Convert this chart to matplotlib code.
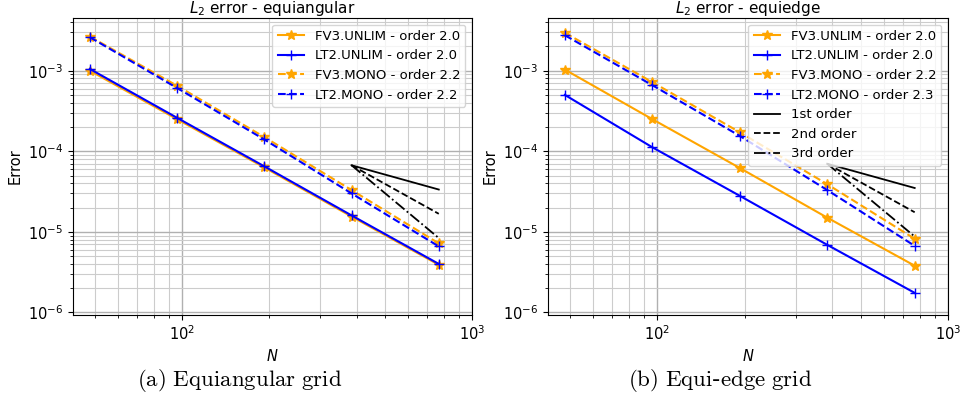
import matplotlib
matplotlib.use("Agg")
import matplotlib.pyplot as plt
import numpy as np

plt.rcParams['mathtext.fontset'] = 'dejavusans'

N = [48, 96, 192, 384, 768]

# equiangular
ea_fv3_unlim = [1.0e-3, 2.5e-4, 6.3e-5, 1.55e-5, 3.9e-6]
ea_lt2_unlim = [1.05e-3, 2.6e-4, 6.5e-5, 1.6e-5, 4.0e-6]
ea_fv3_mono = [2.65e-3, 6.5e-4, 1.5e-4, 3.3e-5, 7.2e-6]
ea_lt2_mono = [2.6e-3, 6.1e-4, 1.4e-4, 3.0e-5, 6.6e-6]
ea_orders = ["2.0", "2.0", "2.2", "2.2"]
ea_ref = 6.7e-5

# equiedge
ee_fv3_unlim = [1.03e-3, 2.5e-4, 6.2e-5, 1.5e-5, 3.8e-6]
ee_lt2_unlim = [5.0e-4, 1.12e-4, 2.8e-5, 6.9e-6, 1.75e-6]
ee_fv3_mono = [2.95e-3, 7.2e-4, 1.72e-4, 3.9e-5, 8.2e-6]
ee_lt2_mono = [2.75e-3, 6.6e-4, 1.55e-4, 3.3e-5, 6.7e-6]
ee_orders = ["2.0", "2.0", "2.2", "2.3"]
ee_ref = 7.0e-5

ref_N = [384, 768]

fig = plt.figure(figsize=(9.63, 4.04), dpi=100)
ax1 = fig.add_axes([73/963, 1-315/404, 399/963, 297/404])
ax2 = fig.add_axes([548/963, 1-315/404, 400/963, 297/404])


def panel(ax, fv3u, lt2u, fv3m, lt2m, orders, ref, title, ref_legend):
    ax.loglog(N, fv3u, color='orange', marker='*', ms=7, lw=1.5,
              label='FV3.UNLIM - order ' + orders[0])
    ax.loglog(N, lt2u, color='blue', marker='+', ms=7, lw=1.5,
              label='LT2.UNLIM - order ' + orders[1])
    ax.loglog(N, fv3m, color='orange', marker='*', ms=7, lw=1.5, ls='--',
              label='FV3.MONO - order ' + orders[2])
    ax.loglog(N, lt2m, color='blue', marker='+', ms=7, lw=1.5, ls='--',
              label='LT2.MONO - order ' + orders[3])
    r = np.array(ref_N, dtype=float)
    ax.loglog(r, ref * (r[0] / r) ** 1, 'k-', lw=1.3, label='1st order')
    ax.loglog(r, ref * (r[0] / r) ** 2, 'k--', lw=1.3, label='2nd order')
    ax.loglog(r, ref * (r[0] / r) ** 3, 'k-.', lw=1.3, label='3rd order')
    ax.set_xlim(42, 1000)
    ax.set_ylim(9.3e-7, 4.5e-3)
    ax.grid(True, which='major', color='#b0b0b0', lw=1.0)
    ax.grid(True, which='minor', color='#cccccc', lw=0.8)
    ax.set_xlabel('$N$', fontsize=10.5, labelpad=3)
    ax.set_ylabel('Error', fontsize=10.5)
    ax.set_title(title, fontsize=11, pad=3)
    ax.tick_params(labelsize=10.5)
    h, l = ax.get_legend_handles_labels()
    if not ref_legend:
        h, l = h[:4], l[:4]
    ax.legend(h, l, loc='upper right', fontsize=9.5, handlelength=2.0)


panel(ax1, ea_fv3_unlim, ea_lt2_unlim, ea_fv3_mono, ea_lt2_mono, ea_orders,
      ea_ref, '$L_2$ error - equiangular', False)
panel(ax2, ee_fv3_unlim, ee_lt2_unlim, ee_fv3_mono, ee_lt2_mono, ee_orders,
      ee_ref, '$L_2$ error - equiedge', True)

fig.text(240/963, 1-381/404, r'$\mathrm{(a)\ Equiangular\ grid}$', ha='center',
         va='center', fontsize=16.5, math_fontfamily='cm')
fig.text(720/963, 1-381/404, r'$\mathrm{(b)\ Equi}$-$\mathrm{edge\ grid}$',
         ha='center', va='center', fontsize=16.5, math_fontfamily='cm')

fig.savefig('out.png', dpi=100)
